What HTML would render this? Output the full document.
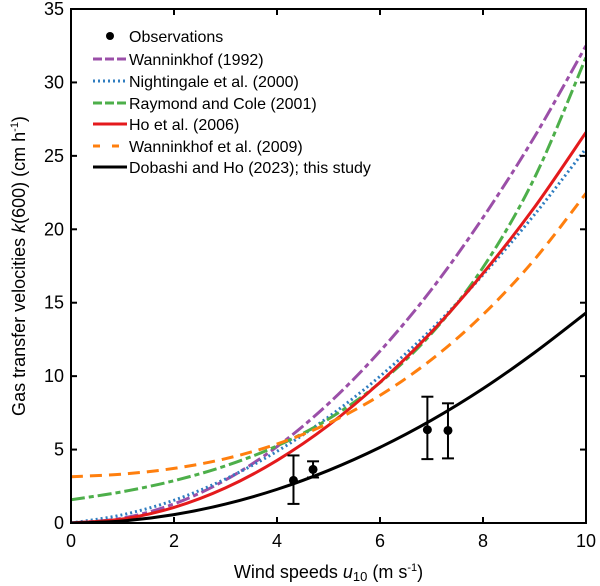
<!DOCTYPE html>
<html><head><meta charset="utf-8"><style>
body{margin:0;background:#fff;}
svg{display:block;font-family:"Liberation Sans",Arial,sans-serif;}
</style></head><body>
<svg id="chart" width="600" height="586">
<g id="plot"></g>
</svg>
<script>
const windSpeeds=[0,1,2,3,4,5,6,7,8,9,10];
const w92=[0,0.33,1.3,2.93,5.2,8.13,11.7,15.9,20.8,26.3,32.5];
const n00=[0,0.56,1.55,3.0,4.88,7.22,9.99,13.2,16.9,21.0,25.5];
const rc01=[1.58,2.13,2.88,3.89,5.25,7.08,9.56,12.9,17.4,23.5,31.7];
const ho06=[0,0.27,1.06,2.39,4.26,6.65,9.58,13.0,17.0,21.5,26.6];
const w09=[3.15,3.33,3.72,4.38,5.38,6.79,8.69,11.13,14.19,17.94,22.45];
const d23=[0,0.14,0.57,1.29,2.29,3.58,5.15,7.0,9.15,11.6,14.3];
const obsU=[4.32,4.7,6.92,7.32];
const obsK=[2.9,3.65,6.35,6.3];
const obsLo=[1.3,3.1,4.35,4.4];
const obsHi=[4.6,4.2,8.6,8.15];
const xTicks=[0,2,4,6,8,10];
const yTicks=[0,5,10,15,20,25,30,35];
const seriesNames=["Wanninkhof (1992)","Nightingale et al. (2000)","Raymond and Cole (2001)","Ho et al. (2006)","Wanninkhof et al. (2009)","Dobashi and Ho (2023); this study"];

const L=71,R=586,T=9,B=523;
const sx=v=>L+(v-0)/10*(R-L);
const sy=v=>B-(v-0)/35*(B-T);
const NS="http://www.w3.org/2000/svg";
const svg=document.getElementById('chart');
function mk(tag,attrs,parent){const e=document.createElementNS(NS,tag);for(const k in attrs)e.setAttribute(k,attrs[k]);(parent||svg).appendChild(e);return e;}

const styles=[
 {c:"#9b4fa8",d:"14 4 5 4",n:"wanninkhof-1992-line"},
 {c:"#2f7dc0",d:"2 3",n:"nightingale-2000-line"},
 {c:"#4daf4a",d:"14 4 5 4",n:"raymond-cole-2001-line"},
 {c:"#e41a1c",d:"",n:"ho-2006-line"},
 {c:"#ff7f0e",d:"12 7",n:"wanninkhof-2009-line"},
 {c:"#000000",d:"",n:"dobashi-ho-2023-line"}];
const data=[w92,n00,rc01,ho06,w09,d23];

const clip=mk('clipPath',{id:'cp'});
mk('rect',{x:L,y:T,width:R-L,height:B-T},clip);

function pathFor(ys){
  const p=windSpeeds.map((u,i)=>[sx(u),sy(ys[i])]);
  let d="M"+p[0][0]+","+p[0][1];
  for(let i=0;i<p.length-1;i++){
    const p0=p[Math.max(i-1,0)],p1=p[i],p2=p[i+1],p3=p[Math.min(i+2,p.length-1)];
    const c1=[p1[0]+(p2[0]-p0[0])/6,p1[1]+(p2[1]-p0[1])/6];
    const c2=[p2[0]-(p3[0]-p1[0])/6,p2[1]-(p3[1]-p1[1])/6];
    d+=` C${c1[0]},${c1[1]} ${c2[0]},${c2[1]} ${p2[0]},${p2[1]}`;
  }
  return d;
}
data.forEach((ys,i)=>{
  const e=mk('path',{d:pathFor(ys),fill:'none',stroke:styles[i].c,'stroke-width':3,'stroke-dasharray':styles[i].d,'clip-path':'url(#cp)'});
  
  
});

obsU.forEach((u,i)=>{
  const g=mk('g',{});
  
  
  const x=sx(u);
  mk('line',{x1:x,x2:x,y1:sy(obsLo[i]),y2:sy(obsHi[i]),stroke:'#000','stroke-width':2},g);
  mk('line',{x1:x-6,x2:x+6,y1:sy(obsLo[i]),y2:sy(obsLo[i]),stroke:'#000','stroke-width':2},g);
  mk('line',{x1:x-6,x2:x+6,y1:sy(obsHi[i]),y2:sy(obsHi[i]),stroke:'#000','stroke-width':2},g);
  mk('circle',{cx:x,cy:sy(obsK[i]),r:4.5,fill:'#000'},g);
});

const frame=mk('rect',{x:L,y:T,width:R-L,height:B-T,fill:'none',stroke:'#000','stroke-width':2});



xTicks.forEach(v=>{
  const x=sx(v);
  mk('line',{x1:x,x2:x,y1:B,y2:B-6,stroke:'#000','stroke-width':2});
  mk('line',{x1:x,x2:x,y1:T,y2:T+6,stroke:'#000','stroke-width':2});
  const t=mk('text',{x:x,y:B+24,'text-anchor':'middle','font-size':18});
  t.textContent=v;
  
  
});
yTicks.forEach(v=>{
  const y=sy(v);
  mk('line',{x1:L,x2:L+6,y1:y,y2:y,stroke:'#000','stroke-width':2});
  mk('line',{x1:R,x2:R-6,y1:y,y2:y,stroke:'#000','stroke-width':2});
  const t=mk('text',{x:L-7,y:y+6,'text-anchor':'end','font-size':18});
  t.textContent=v;
  
  
});

const lg=mk('g',{});


mk('circle',{cx:110,cy:36,r:4,fill:'#000'},lg);
let t0=mk('text',{x:129,y:42,'font-size':16},lg);t0.textContent="Observations";
const rows=[59,81,103,124,146,167];
seriesNames.forEach((n,i)=>{
  const e=mk('g',{},lg);
  
  
  mk('line',{x1:93,x2:127,y1:rows[i],y2:rows[i],stroke:styles[i].c,'stroke-width':3,'stroke-dasharray':i==4?"7 12":(i==1?"2 3":(i==0||i==2?"9 3":""))},e);
  const t=mk('text',{x:129,y:rows[i]+6,'font-size':16},e);t.textContent=n;
});

const xt=mk('text',{x:(L+R)/2,y:578,'text-anchor':'middle','font-size':18});


xt.innerHTML='Wind speeds <tspan font-style="italic">u</tspan><tspan font-size="13" dy="3">10</tspan><tspan dy="-3"> (m s</tspan><tspan font-size="11" dy="-7">-1</tspan><tspan dy="7">)</tspan>';
const yt=mk('text',{x:0,y:0,'text-anchor':'middle','font-size':18,transform:`translate(25,${(T+B)/2}) rotate(-90)`});


yt.innerHTML='Gas transfer velocities <tspan font-style="italic">k</tspan>(600) (cm h<tspan font-size="11" dy="-7">-1</tspan><tspan dy="7">)</tspan>';
</script>
</body></html>
